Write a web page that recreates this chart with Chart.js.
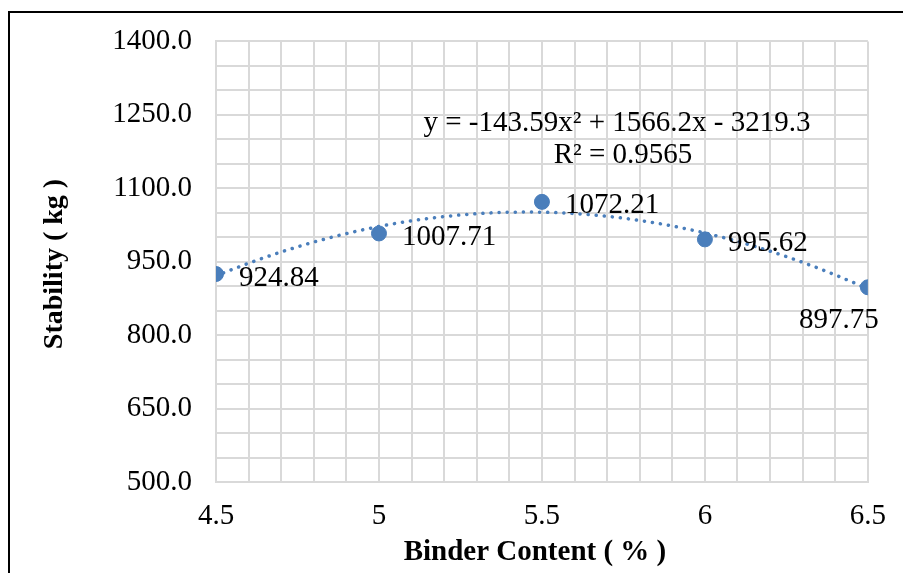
<!DOCTYPE html>
<html>
<head>
<meta charset="utf-8">
<script src="https://cdn.jsdelivr.net/npm/chart.js@4"></script>
<style>
    body { margin: 0; background: #fff; overflow: hidden; }
    #frame { position: absolute; left: 8px; top: 11px; width: 1000px; height: 1000px; border: 2px solid #000; }
    #chart { position: absolute; left: 0; top: 0; }
</style>
</head>
<body>
<div id="frame"></div>
<canvas id="chart" width="903" height="573"></canvas>
<script>
// Chart data
const binderContent = [4.5, 5, 5.5, 6, 6.5];
const stability = [924.84, 1007.71, 1072.21, 995.62, 897.75];
const xTickLabels = [4.5, 5, 5.5, 6, 6.5];
const yTickLabels = [500, 650, 800, 950, 1100, 1250, 1400];

// Trendline as printed on the chart: y = a x^2 + b x + c
const trendCoeffs = [-143.59, 1566.2, -3219.3];
const trendEquation = 'y = -143.59x\u00B2 + 1566.2x - 3219.3';
const trendR2 = 'R\u00B2 = 0.9565';

const markerColor = '#4a7ebb';
const gridColor = '#d9d9d9';
const serif = '"Liberation Serif", "Times New Roman", serif';

// Sample the printed trendline equation across the data range
const trendPoints = [];
for (let i = 0; i <= 40; i++) {
    const x = binderContent[0] + (binderContent[binderContent.length - 1] - binderContent[0]) * i / 40;
    trendPoints.push({ x: x, y: trendCoeffs[0] * x * x + trendCoeffs[1] * x + trendCoeffs[2] });
}

// Draws data labels, equation text and axis titles
const overlayPlugin = {
    id: 'overlay',
    afterDatasetsDraw(chart) {
        const ctx = chart.ctx;
        const meta = chart.getDatasetMeta(1);
        ctx.save();
        ctx.fillStyle = '#000';
        ctx.font = '29px ' + serif;
        ctx.textBaseline = 'middle';
        meta.data.forEach((pt, i) => {
            const label = stability[i].toFixed(2);
            if (i === meta.data.length - 1) {
                ctx.textAlign = 'center';
                ctx.fillText(label, pt.x - 29, pt.y + 33);
            } else {
                ctx.textAlign = 'left';
                ctx.fillText(label, pt.x + 23, pt.y + 4);
            }
        });

        const area = chart.chartArea;
        ctx.textAlign = 'center';
        ctx.fillText(trendEquation, 617, 123);
        ctx.fillText(trendR2, 623, 155);

        ctx.font = 'bold 29px ' + serif;
        ctx.fillText('Binder Content ( % )', (area.left + area.right) / 2 - 7, 553);
        ctx.font = 'bold 28px ' + serif;
        ctx.translate(55, 264);
        ctx.rotate(-Math.PI / 2);
        ctx.fillText('Stability ( kg )', 0, 0);
        ctx.restore();
    }
};

const config = {
    type: 'scatter',
    data: {
        datasets: [{
            label: 'Trend',
            data: trendPoints,
            showLine: true,
            borderColor: markerColor,
            borderWidth: 3.5,
            borderDash: [0.1, 8],
            borderCapStyle: 'round',
            pointRadius: 0,
            tension: 0
        }, {
            label: 'Stability',
            data: binderContent.map((x, i) => ({ x: x, y: stability[i] })),
            backgroundColor: markerColor,
            borderColor: markerColor,
            pointRadius: 7.5
        }]
    },
    options: {
        responsive: false,
        animation: false,
        layout: { padding: { left: 0, top: 39, right: 35, bottom: 0 } },
        plugins: {
            legend: { display: false },
            tooltip: { enabled: false }
        },
        scales: {
            x: {
                type: 'linear',
                min: xTickLabels[0],
                max: xTickLabels[xTickLabels.length - 1],
                afterFit: function(scale) { scale.height = 91; },
                ticks: {
                    stepSize: 0.1,
                    autoSkip: false,
                    maxRotation: 0,
                    padding: 17,
                    color: '#000',
                    font: { family: serif, size: 29 },
                    callback: function(value) {
                        const v = Math.round(value * 10) / 10;
                        return xTickLabels.some(t => Math.abs(t - v) < 1e-6) ? String(v) : '';
                    }
                },
                grid: { color: gridColor, lineWidth: 2, drawTicks: false },
                border: { color: gridColor, width: 2 }
            },
            y: {
                type: 'linear',
                min: yTickLabels[0],
                max: yTickLabels[yTickLabels.length - 1],
                afterFit: function(scale) { scale.width = 216; },
                ticks: {
                    stepSize: 50,
                    autoSkip: false,
                    padding: 24,
                    color: '#000',
                    font: { family: serif, size: 29 },
                    callback: function(value) {
                        return yTickLabels.includes(Math.round(value)) ? value.toFixed(1) : '';
                    }
                },
                grid: { color: gridColor, lineWidth: 2, drawTicks: false },
                border: { color: gridColor, width: 2 }
            }
        }
    },
    plugins: [overlayPlugin]
};

new Chart(document.getElementById('chart').getContext('2d'), config);
</script>
</body>
</html>
